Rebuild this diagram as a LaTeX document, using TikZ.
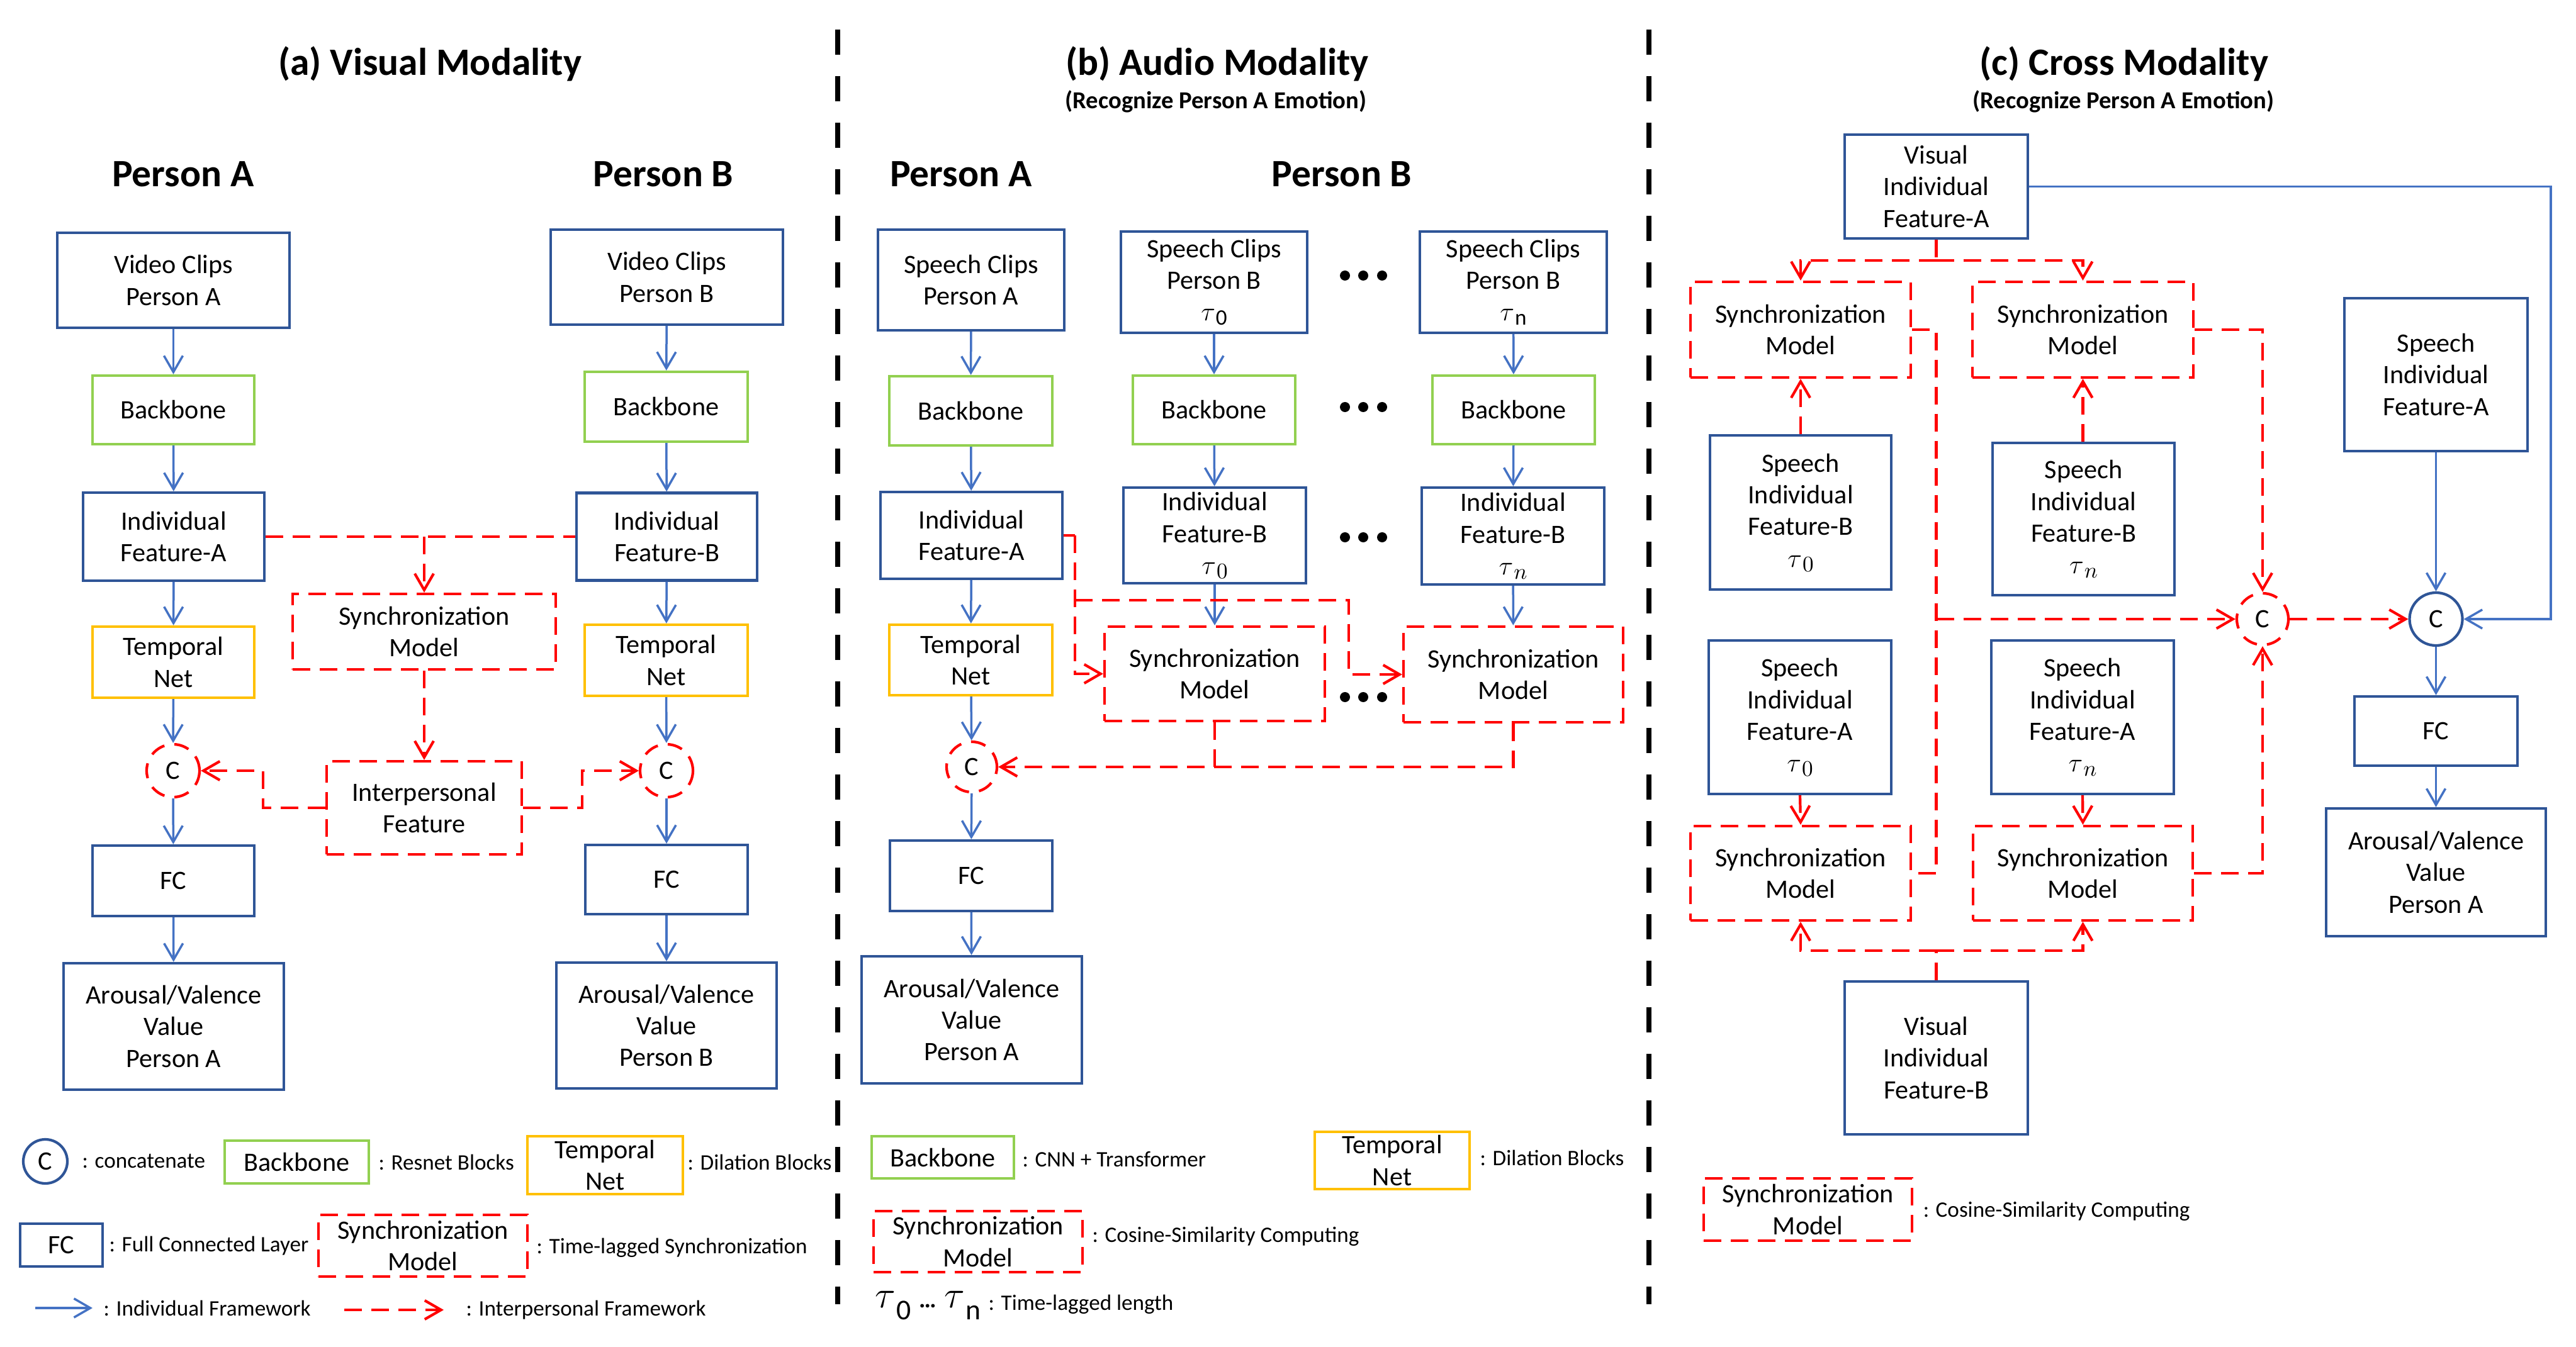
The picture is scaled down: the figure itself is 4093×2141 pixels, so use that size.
\documentclass[tikz,border=0pt]{standalone}
\usepackage{fontspec}
\setmainfont{Carlito}
\usetikzlibrary{arrows.meta}
\definecolor{boxblue}{RGB}{47,85,151}
\definecolor{arrblue}{RGB}{68,114,196}
\definecolor{boxgreen}{RGB}{146,208,80}
\definecolor{boxyellow}{RGB}{255,192,0}
\definecolor{sepred}{RGB}{255,0,0}
\newcommand{\tausub}[1]{{\fontsize{12.5}{12.5}\selectfont$\tau$}\kern0.1mm\raisebox{-0.7mm}{\fontsize{10}{10}\selectfont$#1$}}
\tikzset{
  base/.style={align=center, inner sep=0pt, font=\fontsize{12}{14.3}\selectfont, fill=white},
  bbox/.style={base, draw=boxblue, line width=0.42mm},
  gbox/.style={base, draw=boxgreen, line width=0.42mm},
  ybox/.style={base, draw=boxyellow, line width=0.42mm},
  rbox/.style={base, draw=sepred, line width=0.42mm, dash pattern=on 2.8mm off 1.5mm},
  sz/.style 2 args={minimum width=#1*0.1mm, minimum height=#2*0.1mm},
  bcirc/.style={base, circle, draw=boxblue, line width=0.42mm, minimum size=84*0.1mm},
  rcirc/.style={base, circle, draw=sepred, line width=0.42mm, minimum size=84*0.1mm, dash pattern=on 2.4mm off 1.6mm},
  barr/.style={draw=arrblue, line width=0.35mm, -{Straight Barb[length=2.6mm,width=3mm]}},
  rline/.style={draw=sepred, line width=0.42mm, dash pattern=on 2.8mm off 1.5mm},
  rarr/.style={rline, -{Straight Barb[length=2.6mm,width=3mm]}},
  ttl/.style={inner sep=0pt, font=\fontsize{17.5}{20}\selectfont\bfseries},
  subttl/.style={inner sep=0pt, font=\fontsize{11}{13}\selectfont\bfseries},
  lgt/.style={inner sep=0pt, anchor=west, font=\fontsize{10}{12}\selectfont},
  sepline/.style={line width=0.86mm, dash pattern=on 4mm off 3.4mm},
}
\begin{document}
\begin{tikzpicture}[x=0.1mm, y=-0.1mm]
\useasboundingbox (0,0) rectangle (4093,2141);
\fill[white] (0,0) rectangle (4093,2141);

% separators
\coordinate (s1a) at (1331,47); \coordinate (s1b) at (1331,2073);
\coordinate (s2a) at (2620,47); \coordinate (s2b) at (2620,2073);
\draw[sepline] (s1a) -- (s1b);
\draw[sepline] (s2a) -- (s2b);

% ---------------- (a) ----------------
\node[ttl] (ta) at (683,102) {(a) Visual Modality};
\node[ttl] (pa) at (291,277) {Person A};
\node[ttl] (pb) at (1054,277) {Person B};

\node[bbox, sz={369}{151}] (vA) at (275.5,445.5) {Video Clips\\Person A};
\node[gbox, sz={257}{109}] (bbA) at (275.5,651.5) {Backbone};
\node[bbox, sz={288}{140}] (ifA) at (276,853) {Individual\\Feature-A};
\node[ybox, sz={257}{113}] (tnA) at (275.5,1052.5) {Temporal\\Net};
\node[rcirc] (cA) at (275,1225) {C};
\node[bbox, sz={257}{112}] (fcA) at (275.5,1400) {FC};
\node[bbox, sz={350}{201}] (avA) at (276,1631.5) {Arousal/Valence\\Value\\Person A};

\node[bbox, sz={369}{151}] (vB) at (1059.5,440.5) {Video Clips\\Person B};
\node[gbox, sz={259}{111}] (bbB) at (1058.5,646.5) {Backbone};
\node[bbox, sz={287}{139}] (ifB) at (1059.5,853) {Individual\\Feature-B};
\node[ybox, sz={259}{113}] (tnB) at (1058.5,1049.5) {Temporal\\Net};
\node[rcirc] (cB) at (1059,1225) {C};
\node[bbox, sz={258}{110}] (fcB) at (1059,1398) {FC};
\node[bbox, sz={350}{200}] (avB) at (1059,1630) {Arousal/Valence\\Value\\Person B};

\node[rbox, sz={418}{120}] (syA) at (674,1004) {Synchronization\\Model};
\node[rbox, sz={310}{148}] (ipf) at (674,1284) {Interpersonal\\Feature};

\draw[barr] (vA) -- (bbA);
\draw[barr] (bbA) -- (ifA);
\draw[barr] (ifA) -- (tnA);
\draw[barr] (tnA) -- (cA);
\draw[barr] (cA) -- (fcA);
\draw[barr] (fcA) -- (avA);
\draw[barr] (vB) -- (bbB);
\draw[barr] (bbB) -- (ifB);
\draw[barr] (ifB) -- (tnB);
\draw[barr] (tnB) -- (cB);
\draw[barr] (cB) -- (fcB);
\draw[barr] (fcB) -- (avB);

\coordinate (ja) at (674,853);
\draw[rline] (ifA.east) -- (ifB.west);
\draw[rarr] (ja) -- (syA.north);
\draw[rarr] (syA.south) -- (ipf.north);
\draw[rarr] (ipf.west) -- ++(-99,0) |- (cA.east);
\draw[rarr] (ipf.east) -- ++(94,0) |- (cB.west);

% legend (a)
\node[bcirc, minimum size=70*0.1mm] (lgC) at (72,1846) {C};
\node[lgt] (lgCt) at (130,1846) {: concatenate};
\node[gbox, sz={229}{68}] (lgBB) at (471.5,1847) {Backbone};
\node[lgt] (lgBBt) at (601,1847) {: Resnet Blocks};
\node[ybox, sz={247}{92}] (lgTN) at (961.5,1852) {Temporal\\Net};
\node[lgt] (lgTNt) at (1092,1847) {: Dilation Blocks};
\node[bbox, sz={131}{68}] (lgFC) at (97.5,1979) {FC};
\node[lgt] (lgFCt) at (173,1980) {: Full Connected Layer};
\node[rbox, sz={332}{98}] (lgSy) at (672,1980) {Synchronization\\Model};
\node[lgt] (lgSyt) at (852,1983) {: Time-lagged Synchronization};
\coordinate (la1) at (56,2079); \coordinate (la2) at (147,2079);
\draw[barr] (la1) -- (la2);
\node[lgt] (la3) at (164,2079) {: Individual Framework};
\coordinate (lr1) at (547,2082); \coordinate (lr2) at (705,2082);
\draw[rarr] (lr1) -- (lr2);
\node[lgt] (lr3) at (740,2082) {: Interpersonal Framework};

% ---------------- (b) ----------------
\node[ttl] (tb) at (1934,102) {(b) Audio Modality};
\node[subttl] (stb) at (1932,161) {(Recognize Person A Emotion)};
\node[ttl] (pba) at (1527,277) {Person A};
\node[ttl] (pbb) at (2132,277) {Person B};

\node[bbox, sz={296}{160}] (sA) at (1543,445) {Speech Clips\\Person A};
\node[gbox, sz={259}{110}] (bbbA) at (1542.5,653) {Backbone};
\node[bbox, sz={289}{138}] (ifbA) at (1543.5,851) {Individual\\Feature-A};
\node[ybox, sz={259}{112}] (tnbA) at (1542.5,1049) {Temporal\\Net};
\node[rcirc, minimum size=80*0.1mm] (cbA) at (1544,1219) {C};
\node[bbox, sz={258}{112}] (fcbA) at (1543,1392) {FC};
\node[bbox, sz={350}{202}] (avbA) at (1544,1621) {Arousal/Valence\\Value\\Person A};

\node[bbox, sz={296}{161}] (s0) at (1929,448.5) {Speech Clips\\Person B\\\tausub{\mathrm{0}}};
\node[bbox, sz={297}{161}] (sn) at (2404.5,448.5) {Speech Clips\\Person B\\\tausub{\mathrm{n}}};
\node[gbox, sz={258}{109}] (bb0) at (1929,651.5) {Backbone};
\node[gbox, sz={258}{109}] (bbn) at (2405,651.5) {Backbone};
\node[bbox, sz={290}{152}] (if0) at (1930,851) {Individual\\Feature-B\\\tausub{0}};
\node[bbox, sz={290}{154}] (ifn) at (2404,852) {Individual\\Feature-B\\\tausub{n}};
\node[rbox, sz={350}{150}] (sy0) at (1930,1071) {Synchronization\\Model};
\node[rbox, sz={349}{152}] (syn) at (2404.5,1072) {Synchronization\\Model};

\draw[barr] (sA) -- (bbbA);
\draw[barr] (bbbA) -- (ifbA);
\draw[barr] (ifbA) -- (tnbA);
\draw[barr] (tnbA) -- (cbA);
\draw[barr] (cbA) -- (fcbA);
\draw[barr] (fcbA) -- (avbA);
\draw[barr] (s0) -- (bb0);
\draw[barr] (bb0) -- (if0);
\draw[barr] (if0) -- (sy0);
\draw[barr] (sn) -- (bbn);
\draw[barr] (bbn) -- (ifn);
\draw[barr] (ifn) -- (syn);

\coordinate (jb1) at (1708,851);
\coordinate (jb2) at (1708,954);
\coordinate (jb3) at (2143,954);
\draw[rline] (ifbA.east) -- (jb1);
\draw[rarr] (jb1) |- (sy0.west);
\draw[rarr] (jb2) -- (jb3) |- (syn.west);
\draw[rline] (sy0.south) -- (sy0.south |- cbA.east);
\draw[rarr] (syn.south) |- (cbA.east);

% dots
\foreach \yy in {438,647,854,1108}{
  \fill (2137,\yy) circle[radius=0.8mm];
  \fill (2166,\yy) circle[radius=0.8mm];
  \fill (2196,\yy) circle[radius=0.8mm];
}

% legend (b)
\node[gbox, sz={226}{67}] (lgbBB) at (1498,1839.5) {Backbone};
\node[lgt] (lgbBBt) at (1624,1843) {: CNN + Transformer};
\node[ybox, sz={246}{91}] (lgbTN) at (2212,1844.5) {Temporal\\Net};
\node[lgt] (lgbTNt) at (2351,1840) {: Dilation Blocks};
\node[rbox, sz={332}{97}] (lgbSy) at (1554,1973.5) {Synchronization\\Model};
\node[lgt] (lgbSyt) at (1735,1965) {: Cosine-Similarity Computing};
\node[inner sep=0pt, anchor=base west] (lgtau) at (1390,2078) {\fontsize{17}{17}\selectfont$\tau$\kern0.1mm\raisebox{-1.9mm}{\fontsize{13}{13}\selectfont$\mathrm{0}$}\hspace{1.3mm}{\fontsize{11}{11}\selectfont\bfseries …}\hspace{1.3mm}$\tau$\kern0.1mm\raisebox{-1.9mm}{\fontsize{13}{13}\selectfont$\mathrm{n}$}};
\node[lgt] (lgtaut) at (1570,2073) {: Time-lagged length};

% ---------------- (c) ----------------
\node[ttl] (tc) at (3375,102) {(c) Cross Modality};
\node[subttl] (stc) at (3374,161) {(Recognize Person A Emotion)};

\node[bbox, sz={291}{165}] (vfA) at (3076.5,296.5) {Visual\\Individual\\Feature-A};
\node[rbox, sz={350}{152}] (sy1) at (2861,524) {Synchronization\\Model};
\node[rbox, sz={351}{152}] (sy2) at (3309.5,524) {Synchronization\\Model};
\node[bbox, sz={288}{245}] (sfB0) at (2861,814.5) {Speech\\Individual\\Feature-B\\\tausub{0}};
\node[bbox, sz={289}{242}] (sfBn) at (3310.5,825) {Speech\\Individual\\Feature-B\\\tausub{n}};
\node[bbox, sz={291}{243}] (sfA) at (3870.5,595.5) {Speech\\Individual\\Feature-A};
\node[rcirc, minimum size=82*0.1mm] (crC) at (3595,984) {C};
\node[bcirc] (cbC) at (3870.5,984) {C};
\node[bbox, sz={290}{244}] (sfA0) at (2860,1140) {Speech\\Individual\\Feature-A\\\tausub{0}};
\node[bbox, sz={290}{244}] (sfAn) at (3309,1140) {Speech\\Individual\\Feature-A\\\tausub{n}};
\node[rbox, sz={350}{150}] (sy3) at (2861,1388) {Synchronization\\Model};
\node[rbox, sz={349}{150}] (sy4) at (3309.5,1388) {Synchronization\\Model};
\node[bbox, sz={291}{243}] (vfB) at (3076.5,1681.5) {Visual\\Individual\\Feature-B};
\node[bbox, sz={259}{110}] (fcC) at (3870.5,1162) {FC};
\node[bbox, sz={349}{203}] (avC) at (3870.5,1386.5) {Arousal/Valence\\Value\\Person A};

\coordinate (jc1) at (3076.5,414);
\draw[rline] (vfA.south) -- (jc1);
\draw[rarr] (jc1) -| (sy1.north);
\draw[rarr] (jc1) -| (sy2.north);
\draw[rarr] (sfB0.north) -- (sy1.south);
\draw[rarr] (sfBn.north -| sy2.south) -- (sy2.south);
\draw[rarr] (sfA0.south) -- (sy3.north);
\draw[rarr] (sfAn.south) -- (sy4.north);
\coordinate (jc2) at (3076.5,1511);
\draw[rline] (vfB.north) -- (jc2);
\draw[rarr] (jc2) -| (sy3.south);
\draw[rarr] (jc2) -| (sy4.south);
\coordinate (jc3) at (3076.5,524);
\draw[rline] (sy1.east) -- (jc3) |- (sy3.east);
\coordinate (jc4) at (3076.5,984);
\draw[rarr] (jc4) -- (crC.west);
\draw[rarr] (sy2.east) -| (crC.north);
\draw[rarr] (sy4.east) -| (crC.south);
\draw[rarr] (crC.east) -- (cbC.west);
\coordinate (jc5) at (4053,296.5);
\draw[barr] (vfA.east) -- (jc5) |- (cbC.east);
\draw[barr] (sfA.south) -- (cbC.north);
\draw[barr] (cbC.south) -- (fcC.north);
\draw[barr] (fcC.south) -- (avC.north);

% legend (c)
\node[rbox, sz={331}{99}] (lgcSy) at (2872.5,1922.5) {Synchronization\\Model};
\node[lgt] (lgcSyt) at (3055,1925) {: Cosine-Similarity Computing};
\end{tikzpicture}
\end{document}
